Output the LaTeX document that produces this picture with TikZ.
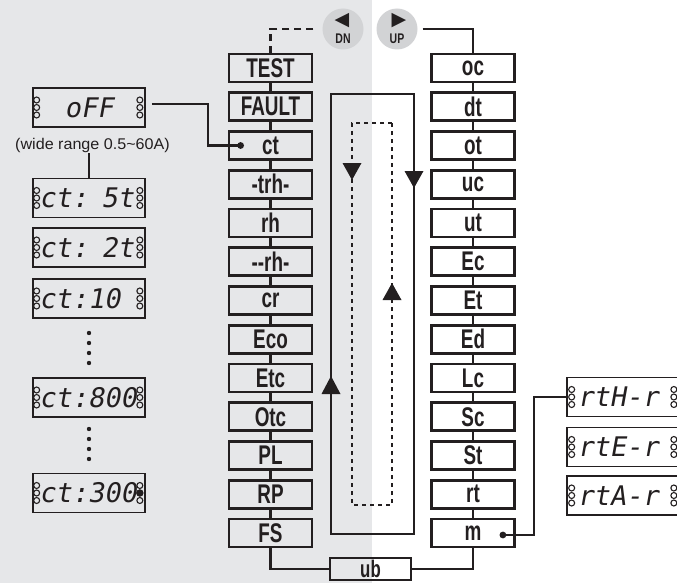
\documentclass[tikz,border=0pt]{standalone}
\usepackage{fontspec}
\usetikzlibrary{calc}
\newfontfamily\boxfont{Liberation Sans}[FakeStretch=0.70]
\newfontfamily\capfont{Liberation Sans}[FakeStretch=1.04]
\newfontfamily\lcdfont{DejaVu Sans Mono}[FakeSlant=0.18]
\newfontfamily\symfont{DejaVu Sans}
\newfontfamily\btnfont{Liberation Sans}[FakeStretch=0.75]
\definecolor{bggray}{RGB}{230,231,233}
\definecolor{btngray}{RGB}{210,211,213}
\definecolor{ink}{RGB}{35,31,32}
\newcommand\ledcol[2]{\foreach \dy in {-7.5,0,7.5}{\draw[led] ($(#1)+(#2,\dy)$) circle (3pt);}}
\begin{document}
\begin{tikzpicture}[x=1pt,y=-1pt,
  menubox/.style={draw=ink, line width=2.8pt, minimum width=83pt, minimum height=28pt, inner sep=0pt, font=\boxfont\bfseries\fontsize{27}{27}\selectfont, text=ink},
  link/.style={draw=ink, line width=2.2pt},
  lcd/.style={draw=ink, line width=1.7pt, minimum width=112pt, minimum height=39pt, inner ysep=0pt, inner xsep=6pt, text width=100pt, align=left, font=\lcdfont\fontsize{27}{27}\selectfont, text=ink},
  led/.style={draw=ink, line width=1.1pt},
  btn/.style={circle, fill=btngray, minimum size=41pt, inner sep=0pt},
  btnsym/.style={font=\symfont\fontsize{19}{19}\selectfont, text=ink, inner sep=0pt},
  btntxt/.style={font=\btnfont\bfseries\fontsize{14}{14}\selectfont, text=ink, inner sep=0pt},
  tipmark/.style={fill=ink},
  dotline/.style={draw=ink, line width=2.5pt, dash pattern=on 4pt off 4pt},
]
\useasboundingbox (0,0) rectangle (677,583);
\begin{scope}
\clip (0,0) rectangle (677,583);
\fill[bggray] (0,0) rectangle (372,583);

% buttons
\node[btn] (dn) at (343,29) {};
\node[btnsym] (dnsym) at (342,21) {◀};
\node[btntxt] (dntxt) at (343,39) {DN};
\node[btn] (up) at (397,29) {};
\node[btnsym] (upsym) at (399,21) {▶};
\node[btntxt] (uptxt) at (397,39) {UP};

% menu columns
\foreach \lab [count=\i from 0] in {TEST,FAULT,ct,-trh-,rh,--rh-,cr,Eco,Etc,Otc,PL,RP,FS}
  \node[menubox] (l\i) at (270.5,{68+38.75*\i}) {\lab};
\foreach \lab [count=\i from 0] in {oc,dt,ot,uc,ut,Ec,Et,Ed,Lc,Sc,St,rt,m}
  \node[menubox] (r\i) at (473,{68+38.75*\i}) {\lab};
\foreach \i in {0,...,11}{
  \pgfmathtruncatemacro\j{\i+1}
  \draw[link] (l\i.south) -- (l\j.north);
  \draw[link] (r\i.south) -- (r\j.north);
}
\node[menubox, minimum width=81pt, minimum height=22pt, font=\boxfont\bfseries\fontsize{24}{24}\selectfont] (ub) at (370.5,569) {ub};
\draw[link] (l12.south) |- (ub.west);
\draw[link] (r12.south) |- (ub.east);

\draw[link, dash pattern=on 7pt off 5pt, shorten <=9pt] (dn.west) -| (l0.north);
\draw[link, shorten <=5pt] (up.east) -| (r0.north);

% loops
\draw[link] (331,94) -- (414,94) -- (414,534) -- (331,534) -- cycle;
\fill[tipmark] (404.5,171) -- (423.5,171) -- (414,188) -- cycle;
\fill[tipmark] (321.5,394) -- (340.5,394) -- (331,376) -- cycle;
\draw[dotline] (392,123) -- (352,123) -- (352,505) -- (392,505) -- cycle;
\fill[tipmark] (342.5,163) -- (361.5,163) -- (352,180) -- cycle;
\fill[tipmark] (382.5,300) -- (401.5,300) -- (392,283) -- cycle;

% left displays
\node[lcd, align=center] (off) at (89,107.5) {oFF};
\node[font=\capfont\fontsize{15.5}{15.5}\selectfont, text=ink, inner sep=1pt] (cap) at (92.5,145) {(wide range 0.5{\char"7E}60A)};
\node[lcd] (ct5) at (89,198) {ct: 5t};
\node[lcd] (ct2) at (89,247.5) {ct: 2t};
\node[lcd] (ct10) at (89,298.5) {ct:10};
\node[lcd] (ct800) at (89,397.5) {ct:800};
\node[lcd] (ct300) at (89,493) {ct:300};
\foreach \y in {333,343,353,363,429,439,449,459} \fill[ink] (89,\y) circle (2.2pt);
\draw[link, line width=1.6pt] (cap.south -| ct5.north) -- (ct5.north);

% right displays
\node[lcd] (rth) at (623,397) {\hspace*{4pt}rtH-r};
\node[lcd] (rte) at (623,447) {\hspace*{4pt}rtE-r};
\node[lcd] (rta) at (623,495.5) {\hspace*{4pt}rtA-r};

\foreach \n in {off,ct5,ct2,ct10,ct800,ct300}{\ledcol{\n.west}{4.5}\ledcol{\n.east}{-6}}
\foreach \n in {rth,rte,rta}{\ledcol{\n.west}{5.5}\ledcol{\n.east}{-6}}
\fill[ink] ($(ct300.east)+(-6,0)$) circle (3.6pt);

% ct and m links
\coordinate (ctdot) at ($(l2.west)+(13,0)$);
\coordinate (bendA) at (208,0);
\draw[link] ($(off.east)+(6,-3.5)$) -| (bendA |- ctdot) -- (ctdot);
\fill[ink] (ctdot) circle (3.4pt);
\coordinate (mdot) at ($(r12.east)+(-13,2)$);
\coordinate (bendB) at (534,0);
\draw[link] (mdot) -| (bendB |- rth.west) -- (rth.west);
\fill[ink] (mdot) circle (3.4pt);
\end{scope}
\end{tikzpicture}
\end{document}
